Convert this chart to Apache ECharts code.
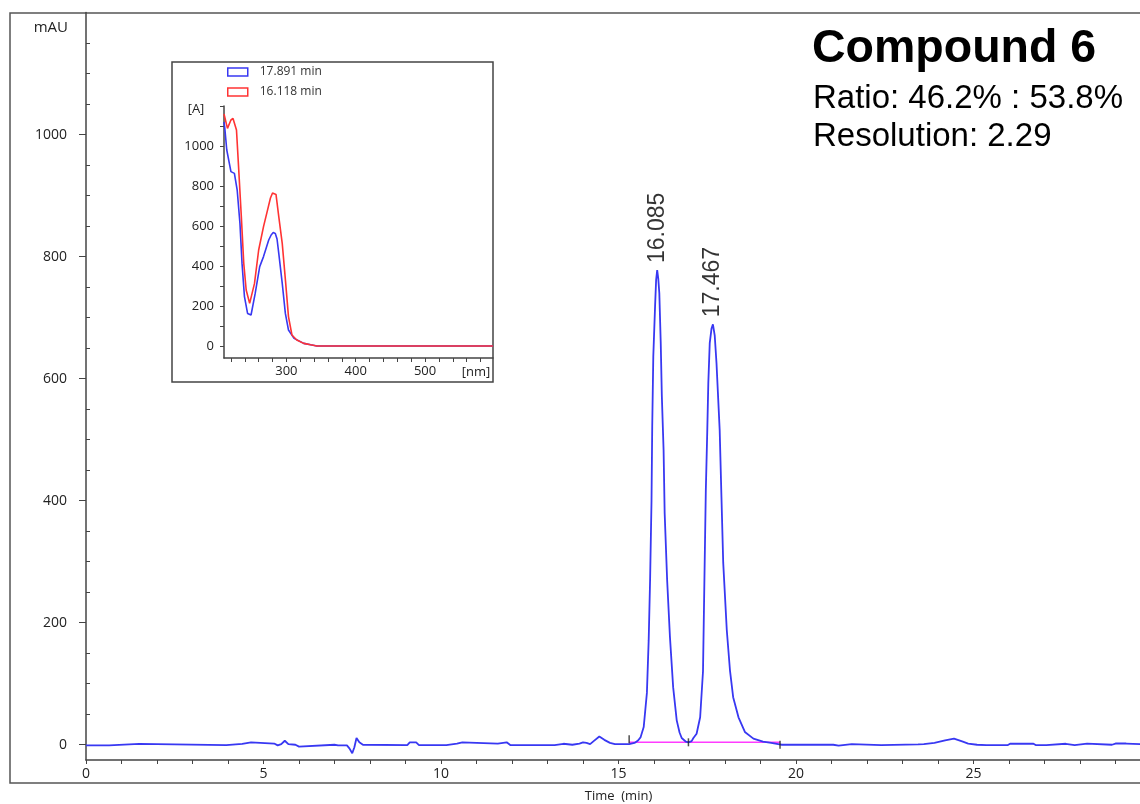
<!DOCTYPE html>
<html>
<head>
<meta charset="utf-8">
<script src="https://cdn.jsdelivr.net/npm/echarts@6/dist/echarts.min.js"></script>
<style>
html,body{margin:0;padding:0;background:#fff;}
#chart{width:1140px;height:804px;}
</style>
</head>
<body>
<div id="chart"></div>
<script>
// ---- Chromatogram (main trace) ----
const timeMin = [0,0.65,0.7,1.5,1.55,3.95,4.0,4.4,4.45,4.65,4.7,5.3,5.4,5.5,5.6,5.7,5.9,6.0,6.05,7.0,7.03,7.1,7.35,7.42,7.5,7.56,7.62,7.7,7.8,9.05,9.12,9.3,9.38,10.15,10.2,10.45,10.5,10.6,10.65,11.6,11.65,11.85,11.95,13.2,13.25,13.45,13.5,13.7,13.75,13.9,14.0,14.1,14.2,14.3,14.46,14.6,14.76,14.9,15.3,15.45,15.55,15.62,15.71,15.8,15.85,15.89,15.93,15.95,15.98,16.03,16.06,16.09,16.12,16.15,16.19,16.22,16.27,16.3,16.37,16.45,16.54,16.64,16.72,16.78,16.9,16.97,17.06,17.11,17.2,17.3,17.38,17.42,17.46,17.5,17.53,17.57,17.62,17.66,17.71,17.76,17.8,17.85,17.9,17.95,18.05,18.14,18.23,18.38,18.56,18.8,19.07,19.3,19.5,19.6,21.05,21.08,21.2,21.24,21.57,21.6,22.4,22.45,23.44,23.6,23.9,24.2,24.45,24.7,24.85,25.1,25.36,25.97,26.03,26.69,26.75,27.05,27.1,27.6,27.65,27.85,27.9,28.2,28.25,28.9,29.0,29.3,29.35,30];
const signalMAU = [-1,-1,1.5,1.5,-0.5,-0.5,1.5,1.5,4,4,2,2,-1,1,6.5,1,0,-3,0,0,-3,-1,-1,-6,-14,-4,11,4,0,-0.5,4,4,-0.5,-0.5,2,2,4,4,2,2,4,4,-0.5,-0.5,1.6,1.6,0,0,2,2,4,3,1,6,13.5,8,3,1,1,3,7,12,29,85,171,270,400,521,636,718,762,778,764,740,658,573,483,380,270,176,94,40,20,11,5,4,6,11,18,45,120,270,418,513,593,658,682,689,671,626,577,516,406,298,188,122,78,45,21,10,5,3,1,0,0,-1.6,-1.6,1,1,-0.5,-0.5,0.5,0.5,1,3,7,10,5,2,0,-0.5,-0.5,1.6,1.6,-0.5,-0.5,1.6,1.6,-0.5,-0.5,2,2,0,0,2,2,0.5,0.5];

// integration baseline and markers
const baselineTime = [15.3, 19.55];
const baselineMAU = [4, 4];
const markerTime = [15.3, 16.97, 19.55];
const markerMAU = [9, 4, 0];

// peak annotations
const peakTime = [16.09, 17.66];
const peakMAU = [778, 689];
const peakLabels = ['16.085', '17.467'];

// axis ticks
const yMajor = [0, 200, 400, 600, 800, 1000];
const yMinor = [50,100,150,250,300,350,450,500,550,650,700,750,850,900,950,1050,1100,1150];

// ---- Inset UV spectra ----
const blueNm  = [210,211,214,220,225,229,233,236,239.5,244,249,255,261.5,267,274.5,278,281,284,286.5,289,294,298.5,303,311,325,335,344,598];
const blueA   = [1120,1095,980,872,863,780,613,413,247,163,155,263,397,447,530,555,567,563,535,463,313,163,80,38,13,6,0,0];
const redNm   = [210,211,215,220,223,228,231,235,238.5,242,247,254,260,267,274,277,280,282.5,285,289,294,299,303,308,315,325,335,344,598];
const redA    = [1160,1155,1088,1130,1138,1080,897,647,413,280,213,313,480,597,697,740,765,770,758,647,513,313,147,55,30,13,6,0,0];
const spectraNames = ['17.891 min', '16.118 min'];
const insetXTicks = [220,240,260,280,300,320,340,360,380,400,420,440,460,480,500,520,540,560,580];
const insetXLabels = [300, 400, 500];
const insetYTicks = [0,100,200,300,400,500,600,700,800,900,1000,1100,1200];
const insetYLabels = [0,200,400,600,800,1000];

const zip = (a, b) => a.map((v, i) => [v, b[i]]);

const axisFont = 'Open Sans';
const labelColor = '#222';
const axisColor = '#444';
const blue = '#3838f2';
const red = '#ff3333';

const chart = echarts.init(document.getElementById('chart'), null, {renderer: 'canvas'});

chart.setOption({
  animation: false,
  backgroundColor: '#fff',
  grid: [
    {left: 86, top: 12.5, width: 1065, height: 747.5, outerBoundsMode: 'none', containLabel: false},
    {left: 224, top: 106, width: 269, height: 252, outerBoundsMode: 'none', containLabel: false}
  ],
  legend: {
    data: [
      {name: spectraNames[0], itemStyle: {color: '#fff', borderColor: blue, borderWidth: 1.5}},
      {name: spectraNames[1], itemStyle: {color: '#fff', borderColor: red, borderWidth: 1.5}}
    ],
    orient: 'vertical',
    left: 227, top: 66,
    padding: 0,
    icon: 'rect',
    itemWidth: 20, itemHeight: 8, itemGap: 8,
    textStyle: {fontSize: 12, color: '#333', fontFamily: axisFont, padding: [0,0,0,7]}
  },
  xAxis: [
    {
      type: 'value', gridIndex: 0, min: 0, max: 30, interval: 1,
      axisLine: {show: true, onZero: false, lineStyle: {color: axisColor, width: 1.5}},
      axisTick: {show: true, length: 4, lineStyle: {color: axisColor, width: 1}},
      axisLabel: {formatter: v => (v % 5 === 0 && v < 30) ? String(v) : '', fontSize: 14, color: labelColor, margin: 7, fontFamily: axisFont},
      splitLine: {show: false},
      name: 'Time  (min)', nameLocation: 'middle', nameGap: 30,
      nameTextStyle: {fontSize: 13, color: labelColor, fontFamily: axisFont}
    },
    {
      type: 'value', gridIndex: 1, min: 210, max: 598,
      axisLine: {show: true, onZero: false, lineStyle: {color: axisColor, width: 1.5}},
      axisTick: {show: true, length: 4, customValues: insetXTicks, lineStyle: {color: axisColor}},
      axisLabel: {customValues: insetXLabels, formatter: v => String(v), fontSize: 13, color: labelColor, margin: 7, fontFamily: axisFont},
      splitLine: {show: false}
    }
  ],
  yAxis: [
    {
      type: 'value', gridIndex: 0, min: -25, max: 1200,
      axisLine: {show: true, onZero: false, lineStyle: {color: axisColor, width: 1.5}},
      axisTick: {show: true, length: 7, customValues: yMajor, lineStyle: {color: axisColor}},
      axisLabel: {customValues: yMajor, formatter: v => String(v), fontSize: 14, color: labelColor, margin: 19, fontFamily: axisFont},
      splitLine: {show: false}
    },
    {
      type: 'value', gridIndex: 0, min: -25, max: 1200,
      axisLine: {show: false},
      axisTick: {show: true, length: 4, customValues: yMinor, lineStyle: {color: axisColor}},
      axisLabel: {show: false},
      splitLine: {show: false}
    },
    {
      type: 'value', gridIndex: 1, min: -60, max: 1200,
      axisLine: {show: true, onZero: false, lineStyle: {color: axisColor, width: 1.5}},
      axisTick: {show: true, length: 4, customValues: insetYTicks, lineStyle: {color: axisColor}},
      axisLabel: {customValues: insetYLabels, formatter: v => String(v), fontSize: 13, color: labelColor, margin: 10, fontFamily: axisFont},
      splitLine: {show: false}
    }
  ],
  graphic: [
    {type: 'rect', shape: {x: 10, y: 13, width: 1200, height: 770}, style: {fill: 'none', stroke: '#555', lineWidth: 1.5}, z: -1},
    {type: 'rect', shape: {x: 172, y: 62, width: 321, height: 320}, style: {fill: 'none', stroke: '#444', lineWidth: 1.5}, z: -1},
    {type: 'text', x: 68, y: 28, style: {text: 'mAU', font: '15px "Open Sans"', fill: labelColor, textAlign: 'right', textVerticalAlign: 'middle'}},
    {type: 'text', x: 196, y: 109, style: {text: '[A]', font: '13px "Open Sans"', fill: labelColor, textAlign: 'center', textVerticalAlign: 'middle'}},
    {type: 'text', x: 476, y: 372, style: {text: '[nm]', font: '13px "Open Sans"', fill: labelColor, textAlign: 'center', textVerticalAlign: 'middle'}},
    {type: 'text', x: 812, y: 49, style: {text: 'Compound 6', font: 'bold 46.5px "Liberation Sans"', fill: '#000', textAlign: 'left', textVerticalAlign: 'middle'}},
    {type: 'text', x: 813, y: 99, style: {text: 'Ratio: 46.2% : 53.8%', font: '33px "Liberation Sans"', fill: '#000', textAlign: 'left', textVerticalAlign: 'middle'}},
    {type: 'text', x: 813, y: 137, style: {text: 'Resolution: 2.29', font: '33px "Liberation Sans"', fill: '#000', textAlign: 'left', textVerticalAlign: 'middle'}}
  ],
  series: [
    {
      type: 'line', name: 'baseline', xAxisIndex: 0, yAxisIndex: 0,
      data: zip(baselineTime, baselineMAU), showSymbol: false,
      lineStyle: {color: '#ff3cff', width: 1.6}, itemStyle: {color: '#ff3cff'}, z: 2, silent: true
    },
    {
      type: 'line', name: 'chromatogram', xAxisIndex: 0, yAxisIndex: 0,
      data: zip(timeMin, signalMAU), showSymbol: false,
      lineStyle: {color: blue, width: 1.8}, itemStyle: {color: blue}, z: 3, silent: true
    },
    {
      type: 'scatter', name: 'markers', xAxisIndex: 0, yAxisIndex: 0,
      data: zip(markerTime, markerMAU), symbol: 'rect', symbolSize: [1.5, 8],
      itemStyle: {color: '#222'}, z: 4, silent: true
    },
    {
      type: 'scatter', name: 'peaks', xAxisIndex: 0, yAxisIndex: 0,
      data: zip(peakTime, peakMAU), symbolSize: 0,
      label: {
        show: true, formatter: p => peakLabels[p.dataIndex], position: 'top', distance: 7,
        rotate: 90, align: 'left', verticalAlign: 'middle',
        fontSize: 23, color: '#000', fontFamily: 'Liberation Sans'
      },
      z: 5, silent: true
    },
    {
      type: 'line', name: spectraNames[0], xAxisIndex: 1, yAxisIndex: 2,
      data: zip(blueNm, blueA), showSymbol: false,
      lineStyle: {color: blue, width: 1.6}, itemStyle: {color: blue}, z: 3, silent: true
    },
    {
      type: 'line', name: spectraNames[1], xAxisIndex: 1, yAxisIndex: 2,
      data: zip(redNm, redA), showSymbol: false,
      lineStyle: {color: red, width: 1.6}, itemStyle: {color: red}, z: 4, silent: true
    }
  ]
});
</script>
</body>
</html>
